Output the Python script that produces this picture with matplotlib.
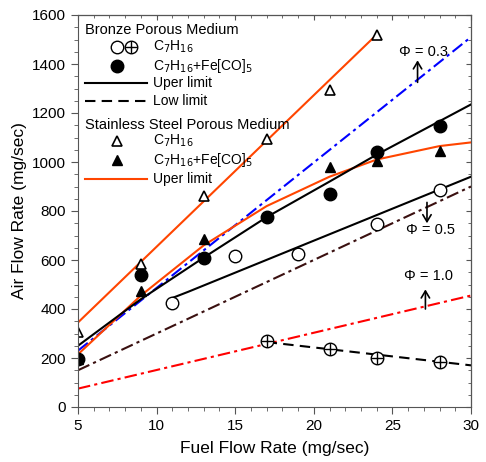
import numpy as np
import matplotlib.pyplot as plt

plt.rcParams['font.family'] = ['Liberation Sans', 'DejaVu Sans']

# Bronze porous medium
c7_x = [11, 15, 19, 24, 28]
c7_y = [425, 615, 625, 745, 885]
c7_low_x = [17, 21, 24, 28]
c7_low_y = [270, 235, 200, 185]
fe_x = [5, 9, 13, 17, 21, 24, 28]
fe_y = [195, 540, 610, 775, 870, 1040, 1145]

# Stainless steel porous medium
ss_c7_x = [5, 9, 13, 17, 21, 24]
ss_c7_y = [305, 585, 860, 1095, 1295, 1520]
ss_fe_x = [5, 9, 13, 21, 24, 28]
ss_fe_y = [195, 475, 685, 980, 1005, 1045]

# limit lines
ss_upper_x = [5, 24]
ss_upper_y = [345, 1520]
ss_curve_x = [5, 9, 13, 17, 21, 24, 28, 30]
ss_curve_y = [215, 455, 660, 820, 940, 1010, 1065, 1080]
br_upper_x = [5, 9, 13, 17, 21, 24, 30]
br_upper_y = [250, 440, 610, 775, 920, 1030, 1235]
br_c7_upper_x = [11, 12, 30]
br_c7_upper_y = [445, 470, 940]
br_low_x = [17, 30]
br_low_y = [265, 170]
phi03_x = [5, 30]
phi03_y = [230, 1510]
phi05_x = [5, 30]
phi05_y = [150, 900]
phi10_x = [5, 30]
phi10_y = [75, 455]

fig = plt.figure(figsize=(4.86, 4.62), dpi=100)
ax = fig.add_axes([78/486, 55/462, 393/486, 392/462])

ax.plot(ss_upper_x, ss_upper_y, color='#ff4500', lw=1.5)
ax.plot(phi03_x, phi03_y, color='blue', lw=1.5, dashes=[6, 2, 1.5, 2])
ax.plot(ss_curve_x, ss_curve_y, color='#ff4500', lw=1.5)
ax.plot(br_upper_x, br_upper_y, color='black', lw=1.5)
ax.plot(br_c7_upper_x, br_c7_upper_y, color='black', lw=1.5)
ax.plot(phi05_x, phi05_y, color='#3a1010', lw=1.5, dashes=[6, 2, 1.5, 2])
ax.plot(phi10_x, phi10_y, color='red', lw=1.5, dashes=[6, 2, 1.5, 2])
ax.plot(br_low_x, br_low_y, color='black', lw=1.5, dashes=[5, 3])

ax.plot(c7_x, c7_y, 'o', ms=9, mfc='white', mec='black', mew=1)
ax.plot(c7_low_x, c7_low_y, 'o', ms=9, mfc='white', mec='black', mew=1)
ax.plot(c7_low_x, c7_low_y, '+', ms=9, color='black', mew=1)
ax.plot(fe_x, fe_y, 'o', ms=9, color='black')
ax.plot(ss_c7_x, ss_c7_y, '^', ms=7, mfc='white', mec='black', mew=1.2)
ax.plot(ss_fe_x, ss_fe_y, '^', ms=7, color='black')

# Phi annotations
arrow = dict(arrowstyle='->,head_width=0.3,head_length=0.5', color='black',
             lw=1.2, shrinkA=0, shrinkB=0)
ax.text(27.0, 1450, '\u03a6 = 0.3', fontsize=10.5, ha='center', va='center')
ax.annotate('', xy=(26.6, 1415), xytext=(26.6, 1325), arrowprops=arrow)
ax.text(27.4, 722, '\u03a6 = 0.5', fontsize=10.5, ha='center', va='center')
ax.annotate('', xy=(27.2, 750), xytext=(27.2, 835), arrowprops=arrow)
ax.text(27.3, 535, '\u03a6 = 1.0', fontsize=10.5, ha='center', va='center')
ax.annotate('', xy=(27.1, 480), xytext=(27.1, 400), arrowprops=arrow)

# legend drawn by hand
def fx(px):
    return (px - 78) / 393
def fy(py):
    return (407 - py) / 392

t = ax.transAxes
ax.text(fx(85), fy(30), 'Bronze Porous Medium', transform=t, fontsize=10.5, va='center')
ax.plot([fx(117)], [fy(47)], 'o', ms=9, mfc='white', mec='black', transform=t)
ax.plot([fx(131)], [fy(47)], 'o', ms=9, mfc='white', mec='black', transform=t)
ax.plot([fx(131)], [fy(47)], '+', ms=9, color='black', transform=t)
ax.text(fx(153), fy(47), r'C$_7$H$_{16}$', transform=t, fontsize=10, va='center')
ax.plot([fx(117)], [fy(66)], 'o', ms=9, color='black', transform=t)
ax.text(fx(153), fy(66), r'C$_7$H$_{16}$+Fe[CO]$_5$', transform=t, fontsize=10, va='center')
ax.plot([fx(85), fx(147)], [fy(83), fy(83)], color='black', lw=1.5, transform=t)
ax.text(fx(153), fy(83), 'Uper limit', transform=t, fontsize=10, va='center')
ax.plot([fx(85), fx(147)], [fy(101), fy(101)], color='black', lw=1.5, dashes=[5, 3], transform=t)
ax.text(fx(153), fy(101), 'Low limit', transform=t, fontsize=10, va='center')
ax.text(fx(85), fy(125), 'Stainless Steel Porous Medium', transform=t, fontsize=10.5, va='center')
ax.plot([fx(117)], [fy(141)], '^', ms=7, mfc='white', mec='black', mew=1.2, transform=t)
ax.text(fx(153), fy(141), r'C$_7$H$_{16}$', transform=t, fontsize=10, va='center')
ax.plot([fx(117)], [fy(160)], '^', ms=7, color='black', transform=t)
ax.text(fx(153), fy(160), r'C$_7$H$_{16}$+Fe[CO]$_5$', transform=t, fontsize=10, va='center')
ax.plot([fx(85), fx(147)], [fy(179), fy(179)], color='#ff4500', lw=1.5, transform=t)
ax.text(fx(153), fy(179), 'Uper limit', transform=t, fontsize=10, va='center')

ax.set_xlim(5, 30)
ax.set_ylim(0, 1600)
ax.set_xticks(range(5, 31, 5))
ax.set_xticks(range(5, 31), minor=True)
ax.set_yticks(range(0, 1601, 200))
ax.set_yticks(range(0, 1601, 50), minor=True)
ax.tick_params(which='both', direction='out', labelsize=11, color='#555555')
ax.tick_params(which='major', length=5)
ax.tick_params(which='minor', length=3)
for s in ax.spines.values():
    s.set_color('#555555')

top = ax.secondary_xaxis('top')
top.set_xticks(range(5, 31, 5))
top.set_xticks(range(5, 31), minor=True)
top.tick_params(which='both', direction='in', labeltop=False, color='#555555')
right = ax.secondary_yaxis('right')
right.set_yticks(range(0, 1601, 200))
right.set_yticks(range(0, 1601, 50), minor=True)
right.tick_params(which='both', direction='in', labelright=False, color='#555555')

ax.set_xlabel('Fuel Flow Rate (mg/sec)', fontsize=12.5, labelpad=6)
ax.set_ylabel('Air Flow Rate (mg/sec)', fontsize=12.5)

fig.savefig('out.png', dpi=100)
